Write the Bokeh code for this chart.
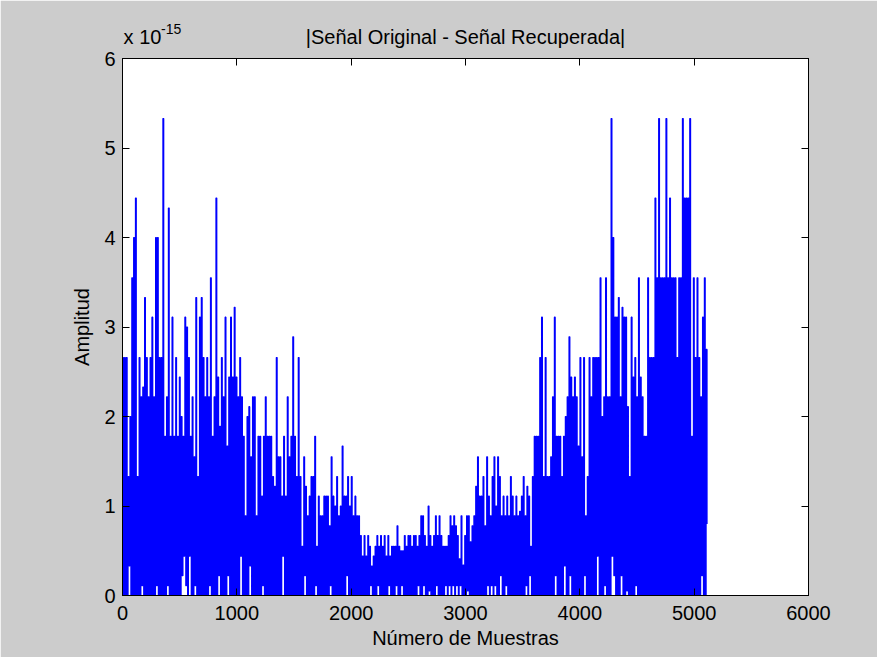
import numpy as np
from bokeh.plotting import figure
from bokeh.models import Range1d, LinearAxis, FixedTicker
from bokeh.embed import file_html
from bokeh.resources import INLINE

# |original - recovered| error, in units of 1e-15.
# The signal alternates between local peaks and local floors (one pair every 16 samples).
peaks_a = [2.66, 2.66, 2.66, 1.33, 2.0, 3.55, 4.0, 4.44, 1.33, 2.66, 2.22, 2.33, 3.33, 2.66, 2.22, 2.66, 3.11, 2.22, 4.0, 4.0,
           2.66, 2.66, 5.33, 1.78, 2.22, 4.33, 1.78, 3.11, 1.78, 2.66, 1.78, 2.44, 2.0, 1.78, 3.11, 3.0, 2.66, 1.78, 2.22, 1.55,
           3.33, 1.33, 3.11, 3.33, 2.66, 2.22, 2.66, 2.22, 3.55, 1.78, 2.22, 4.44, 2.44, 1.89, 2.66, 2.22, 3.11, 1.67, 2.44, 3.11,
           2.44, 3.22, 2.44, 2.22, 2.66, 2.22, 1.78, 0.89, 2.0, 2.11, 1.55, 2.22, 2.22, 0.89, 1.78, 1.78, 1.11, 1.78, 2.22, 1.78]
peaks_b = [1.78, 1.78, 1.33, 1.22, 2.66, 1.55, 1.55, 1.11, 1.78, 1.11, 2.22, 1.55, 1.78, 2.89, 1.78, 1.33, 2.66, 1.33, 0.55, 1.55,
           1.22, 0.89, 1.11, 1.33, 1.33, 1.78, 0.55, 1.11, 0.89, 0.89, 1.11, 1.11, 1.11, 0.78, 1.55, 1.11, 1.0, 1.33, 0.89, 1.0,
           1.67, 1.11, 1.11, 1.33, 1.0, 1.33, 0.89, 1.11, 0.89, 0.89, 0.67, 0.44, 0.67, 0.44, 0.67, 0.55, 0.33, 0.44, 0.55, 0.67,
           0.55, 0.67, 0.55, 0.67, 0.44, 0.67, 0.44, 0.55, 0.55, 0.55, 0.78, 0.55, 0.5, 0.5, 0.67, 0.55, 0.67, 0.67, 0.55, 0.67]
peaks_c = [0.67, 0.55, 0.67, 0.89, 0.89, 0.67, 0.55, 1.0, 0.67, 0.55, 0.67, 0.89, 0.67, 0.89, 0.67, 0.55, 0.55, 0.55, 0.67, 0.89,
           0.78, 0.89, 0.78, 0.67, 0.41, 0.89, 0.34, 0.67, 0.89, 0.89, 0.6, 0.78, 0.89, 1.22, 1.55, 1.11, 1.11, 1.33, 0.78, 1.55,
           1.11, 0.89, 1.33, 1.55, 1.0, 1.55, 1.33, 0.89, 1.11, 0.89, 1.11, 0.89, 1.33, 1.11, 0.89, 1.11, 0.89, 0.94, 1.11, 1.33,
           0.89, 1.22, 1.11, 0.55, 1.33, 1.78, 1.78, 1.78, 2.66, 3.11, 1.33, 2.66, 1.33, 1.33, 1.55, 2.22, 3.11, 1.78, 1.78, 1.78]
peaks_d = [1.33, 1.78, 2.0, 2.22, 2.89, 2.44, 2.22, 2.44, 2.22, 1.67, 2.66, 1.55, 2.66, 0.89, 1.33, 2.66, 2.22, 2.66, 2.66, 2.66,
           2.66, 3.55, 2.0, 2.22, 3.55, 2.22, 2.22, 5.33, 4.0, 3.11, 3.11, 3.33, 2.22, 3.22, 3.11, 3.11, 2.11, 1.33, 3.11, 2.44,
           2.66, 2.22, 3.55, 2.44, 2.22, 1.78, 1.78, 3.55, 2.66, 2.66, 2.66, 4.44, 3.55, 5.33, 3.55, 3.55, 3.55, 5.33, 3.55, 4.44,
           3.55, 3.55, 3.55, 2.66, 3.55, 3.55, 5.33, 4.44, 4.44, 4.44, 5.33, 1.78, 3.55, 2.66, 3.55, 2.66, 2.22, 3.11, 3.55, 2.75]

floors_a = [0, 0, 0, 0.33, 0, 0, 0, 0, 0, 0, 0.11, 0, 0, 0, 0, 0, 0, 0, 0.11, 0,
            0, 0, 0, 0, 0.11, 0, 0, 0, 0, 0, 0, 0, 0.22, 0.44, 0.11, 0, 0.44, 0, 0, 0.11,
            0, 0, 0, 0, 0, 0, 0, 0.11, 0, 0, 0, 0, 0.22, 0, 0, 0, 0, 0.22, 0, 0,
            0, 0, 0, 0, 0.44, 0, 0, 0, 0, 0.33, 0, 0, 0, 0, 0, 0, 0.11, 0, 0, 0]
floors_b = [0, 0, 0, 0, 0, 0, 0, 0.44, 0, 0, 0, 0, 0, 0, 0, 0, 0, 0, 0, 0.22,
            0, 0, 0, 0, 0, 0.11, 0, 0, 0, 0, 0, 0, 0, 0.11, 0, 0, 0, 0, 0, 0,
            0, 0, 0.22, 0, 0, 0, 0, 0, 0, 0, 0, 0, 0, 0, 0, 0.11, 0, 0, 0, 0.11,
            0, 0, 0, 0, 0, 0.11, 0, 0, 0, 0.11, 0, 0, 0.11, 0, 0, 0, 0, 0, 0, 0]
floors_c = [0, 0.11, 0, 0, 0.11, 0, 0, 0.05, 0, 0, 0, 0.11, 0, 0, 0, 0, 0.11, 0, 0.11, 0,
            0.11, 0, 0.11, 0, 0.11, 0, 0, 0, 0.05, 0, 0, 0, 0, 0, 0, 0, 0, 0, 0, 0.11,
            0, 0.11, 0, 0.11, 0, 0, 0.22, 0, 0, 0.11, 0, 0, 0, 0, 0, 0, 0, 0, 0, 0,
            0.11, 0, 0.22, 0, 0, 0, 0, 0, 0, 0, 0, 0, 0, 0, 0, 0, 0.22, 0, 0, 0]
floors_d = [0, 0.33, 0, 0, 0.22, 0, 0, 0, 0, 0, 0, 0, 0.22, 0, 0, 0, 0, 0, 0, 0.44,
            0, 0, 0, 0.11, 0, 0, 0, 0.44, 0.22, 0, 0, 0, 0.22, 0, 0, 0.05, 0, 0, 0, 0,
            0.11, 0, 0, 0, 0, 0, 0, 0, 0, 0, 0, 0, 0, 0, 0, 0, 0, 0, 0, 0,
            0, 0, 0, 0, 0, 0, 0, 0, 0, 0, 0, 0, 0, 0, 0, 0, 0.22, 0, 0, 0.8]

x_ticks = [0, 1000, 2000, 3000, 4000, 5000, 6000]
y_ticks = [0, 1, 2, 3, 4, 5, 6]

TITLE = "|Señal Original - Señal Recuperada|"
EXP_BASE = "x 10"
EXP_POWER = "-15"

peaks = np.array(peaks_a + peaks_b + peaks_c + peaks_d)
floors = np.array(floors_a + floors_b + floors_c + floors_d)
amp = np.empty(peaks.size * 2)
amp[0::2] = peaks
amp[1::2] = floors
muestra = 1 + 8 * np.arange(amp.size)

FONT = "Liberation Sans"
FS = "20px"

p = figure(width=877, height=657, output_backend="svg", toolbar_location=None,
           x_range=Range1d(0, 6000), y_range=Range1d(0, 6),
           min_border_left=122, min_border_right=69, min_border_top=58, min_border_bottom=62)
p.background_fill_color = "white"
p.border_fill_color = "#cccccc"
p.outline_line_color = "black"
p.outline_line_width = 1
p.grid.visible = False
p.title.visible = False

# dense samples: drawn as a held trace so each sample becomes a vertical stroke
p.step(muestra, amp, mode="after", line_color="#0000ff", line_width=1.1)


def style_axis(ax, show_labels):
    ax.axis_line_color = "black"
    ax.major_tick_line_color = "black"
    ax.major_tick_in = 7
    ax.major_tick_out = 0
    ax.minor_tick_line_color = None
    if show_labels:
        ax.major_label_text_font = FONT
        ax.major_label_text_font_size = FS
        ax.major_label_text_color = "black"
        ax.axis_label_text_font = FONT
        ax.axis_label_text_font_size = FS
        ax.axis_label_text_font_style = "normal"
        ax.axis_label_text_color = "black"
    else:
        ax.major_label_text_font_size = "1px"
        ax.major_label_text_color = None
        ax.major_label_standoff = 0


style_axis(p.xaxis[0], True)
style_axis(p.yaxis[0], True)
p.xaxis[0].ticker = FixedTicker(ticks=x_ticks)
p.yaxis[0].ticker = FixedTicker(ticks=y_ticks)
p.xaxis[0].axis_label = "Número de Muestras"
p.yaxis[0].axis_label = "Amplitud"
p.xaxis[0].major_label_standoff = 10
p.xaxis[0].axis_label_standoff = 4
p.yaxis[0].major_label_standoff = 7
p.yaxis[0].axis_label_standoff = 8

# box ticks on the top and right edges
top_ax = LinearAxis(ticker=FixedTicker(ticks=x_ticks))
right_ax = LinearAxis(ticker=FixedTicker(ticks=y_ticks))
style_axis(top_ax, False)
style_axis(right_ax, False)
p.add_layout(top_ax, "above")
p.add_layout(right_ax, "right")

# header row: exponent base at the left corner and the centred title
head_ax = LinearAxis(ticker=FixedTicker(ticks=[175, 3000]),
                     major_label_overrides={175: EXP_BASE, 3000: TITLE})
head_ax.axis_line_color = None
head_ax.major_tick_line_color = None
head_ax.minor_tick_line_color = None
head_ax.major_tick_in = 0
head_ax.major_tick_out = 0
head_ax.major_label_standoff = 11
head_ax.major_label_text_font = FONT
head_ax.major_label_text_font_size = FS
head_ax.major_label_text_color = "black"
p.add_layout(head_ax, "above")

# superscript power of ten
pow_ax = LinearAxis(ticker=FixedTicker(ticks=[425]),
                    major_label_overrides={425: EXP_POWER})
pow_ax.axis_line_color = None
pow_ax.major_tick_line_color = None
pow_ax.minor_tick_line_color = None
pow_ax.major_tick_in = 0
pow_ax.major_tick_out = 0
pow_ax.major_label_standoff = -11
pow_ax.major_label_text_font = FONT
pow_ax.major_label_text_font_size = "14px"
pow_ax.major_label_text_color = "black"
p.add_layout(pow_ax, "above")

open("out.html", "w").write(file_html(p, INLINE))
